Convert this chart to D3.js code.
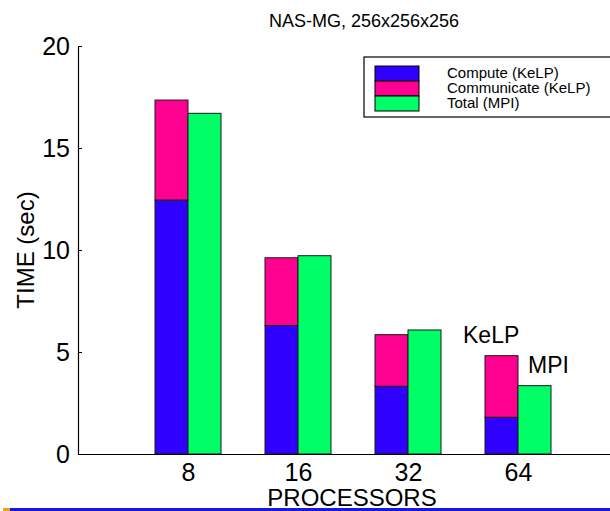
<!DOCTYPE html>
<html>
<head>
<meta charset="utf-8">
<script src="https://cdn.jsdelivr.net/npm/d3@7"></script>
<style>
  html, body { margin: 0; padding: 0; background: #fff; }
  svg { display: block; font-family: "Liberation Sans", Arial, sans-serif; }
</style>
</head>
<body>
<svg id="chart" width="610" height="511"></svg>
<script>
// Processor counts and timings (seconds)
const processors = ["8", "16", "32", "64"];
const computeKelp = [12.45, 6.3, 3.32, 1.8];
const communicateKelp = [4.9, 3.32, 2.53, 3.02];
const totalMpi = [16.7, 9.72, 6.08, 3.35];
const yTicks = [0, 5, 10, 15, 20];
const seriesNames = ["Compute (KeLP)", "Communicate (KeLP)", "Total (MPI)"];
const seriesColors = ["#3000ff", "#ff0090", "#00ff66"];

const svg = d3.select("#chart");

// Plot area: x runs over group slots 0..5, groups sit at 1..4
const x = d3.scaleLinear().domain([0, 5]).range([78, 628]);
const y = d3.scaleLinear().domain([0, 20]).range([454, 46]);
const halfWidth = 0.3; // bar width in x units

// Bars
const g = svg.append("g");
processors.forEach((p, i) => {
  const cx = x(i + 1);
  const bw = x(halfWidth) - x(0);
  // KeLP stacked bar: compute on the bottom, communicate on top
  g.append("rect")
    .attr("x", cx - bw).attr("width", bw)
    .attr("y", y(computeKelp[i])).attr("height", y(0) - y(computeKelp[i]))
    .attr("fill", seriesColors[0]).attr("stroke", "#1a1a1a").attr("stroke-width", 1);
  const top = computeKelp[i] + communicateKelp[i];
  g.append("rect")
    .attr("x", cx - bw).attr("width", bw)
    .attr("y", y(top)).attr("height", y(computeKelp[i]) - y(top))
    .attr("fill", seriesColors[1]).attr("stroke", "#1a1a1a").attr("stroke-width", 1);
  // MPI total bar
  g.append("rect")
    .attr("x", cx).attr("width", bw)
    .attr("y", y(totalMpi[i])).attr("height", y(0) - y(totalMpi[i]))
    .attr("fill", seriesColors[2]).attr("stroke", "#1a1a1a").attr("stroke-width", 1);
});

// Y axis with inward ticks
const yAxis = d3.axisLeft(y).tickValues(yTicks).tickSizeInner(-4).tickSizeOuter(0).tickPadding(8);
const ya = svg.append("g").attr("transform", "translate(78,0)").call(yAxis);
ya.select(".domain").attr("stroke", "#000").attr("stroke-width", 1.2);
ya.selectAll(".tick line").attr("stroke", "#000");
ya.selectAll(".tick text").attr("font-size", 25).attr("fill", "#000")
  .attr("font-family", "Liberation Sans, Arial, sans-serif");

// X axis
const xAxis = d3.axisBottom(x).tickValues([1, 2, 3, 4])
  .tickFormat((d) => processors[d - 1]).tickSize(0).tickPadding(9);
const xa = svg.append("g").attr("transform", "translate(0,454)").call(xAxis);
xa.select(".domain").attr("stroke", "#000").attr("stroke-width", 1.2);
xa.selectAll(".tick text").attr("font-size", 25).attr("fill", "#000")
  .attr("font-family", "Liberation Sans, Arial, sans-serif");

// Titles
svg.append("text").attr("x", 364).attr("y", 27).attr("text-anchor", "middle")
  .attr("font-size", 18).text("NAS-MG, 256x256x256");
svg.append("text").attr("x", 352).attr("y", 506).attr("text-anchor", "middle")
  .attr("font-size", 24).text("PROCESSORS");
svg.append("text").attr("transform", "translate(34,250) rotate(-90)")
  .attr("text-anchor", "middle").attr("font-size", 24).text("TIME (sec)");

// Bar-pair annotations
svg.append("text").attr("x", 463).attr("y", 343).attr("font-size", 23).text("KeLP");
svg.append("text").attr("x", 528).attr("y", 373).attr("font-size", 23).text("MPI");

// Legend
const lg = svg.append("g");
lg.append("rect").attr("x", 364).attr("y", 57).attr("width", 260).attr("height", 60)
  .attr("fill", "#fff").attr("stroke", "#000").attr("stroke-width", 1.2);
seriesNames.forEach((name, i) => {
  lg.append("rect").attr("x", 375).attr("y", 66 + i * 15).attr("width", 44).attr("height", 15)
    .attr("fill", seriesColors[i]).attr("stroke", "#000").attr("stroke-width", 1);
  lg.append("text").attr("x", 447).attr("y", 78 + i * 15).attr("font-size", 15).text(name);
});

// Strip along the bottom edge
svg.append("rect").attr("x", 3).attr("y", 508).attr("width", 7).attr("height", 3).attr("fill", "#f0a020");
svg.append("rect").attr("x", 10).attr("y", 508).attr("width", 600).attr("height", 3).attr("fill", "#1818d8");
</script>
</body>
</html>
